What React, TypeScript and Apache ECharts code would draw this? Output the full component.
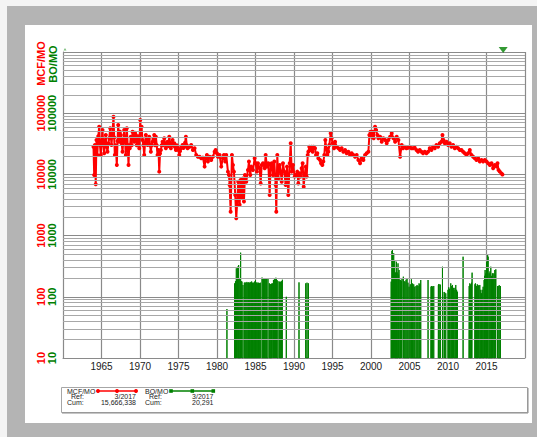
import React, { useEffect, useRef } from 'react';
import * as echarts from 'echarts';

// ---- axes ----
const X_MIN = 1960;
const X_MAX = 2020;
const X_STEP = 5;
const Y_MIN = 10;
const Y_MAX = 1000000;
const DECADES = [10, 100, 1000, 10000, 100000];
const MINOR_MULT = [2, 3, 4, 5, 6, 7, 8, 9];

// ---- legend info ----
const GAS_LABEL = 'MCF/MO';
const OIL_LABEL = 'BO/MO';
const REF_LABEL = 'Ref:';
const CUM_LABEL = 'Cum:';
const REF_DATE = '3/2017';
const REF_YEAR = 2017.17;
const GAS_CUM = '15,666,338';
const OIL_CUM = '20,291';

// ---- gas, MCF per month ----
const gasData: [number, number][] = [
  [1963.96, 28400], [1964.05, 9800], [1964.15, 30200], [1964.25, 6900], [1964.35, 36500], [1964.45, 20700],
  [1964.58, 42000], [1964.7, 60100], [1964.8, 30000], [1964.91, 20700], [1965.02, 35000], [1965.13, 53100],
  [1965.24, 30000], [1965.35, 22100], [1965.46, 36000], [1965.56, 44000], [1965.67, 28000], [1965.78, 23500],
  [1965.9, 32000], [1966.0, 38900], [1966.13, 56600], [1966.3, 30200], [1966.42, 48000], [1966.56, 87700],
  [1966.65, 40000], [1966.73, 20700], [1966.85, 30000], [1966.99, 14200], [1967.08, 35000], [1967.17, 64200],
  [1967.3, 34200], [1967.4, 50000], [1967.51, 44000], [1967.62, 32000], [1967.73, 23500], [1967.85, 38000],
  [1967.95, 53100], [1968.05, 35000], [1968.16, 20700], [1968.29, 56600], [1968.4, 30000], [1968.51, 14200],
  [1968.6, 30000], [1968.68, 26700], [1968.81, 41300], [1968.92, 30000], [1969.03, 49800], [1969.14, 38000],
  [1969.25, 34200], [1969.35, 48000], [1969.46, 44000], [1969.57, 30000], [1969.68, 34200], [1969.8, 42000],
  [1969.9, 26700], [1970.03, 77400], [1970.12, 45000], [1970.2, 60100], [1970.33, 36500], [1970.44, 30000],
  [1970.55, 20700], [1970.66, 33000], [1970.76, 44000], [1970.88, 36000], [1970.98, 30200], [1971.1, 38000],
  [1971.2, 41300], [1971.3, 30000], [1971.41, 23500], [1971.52, 30000], [1971.63, 34200], [1971.74, 38000],
  [1971.85, 44000], [1971.95, 30000], [1972.06, 41300], [1972.17, 30000], [1972.28, 20700], [1972.4, 25000],
  [1972.5, 11100], [1972.6, 22000], [1972.71, 25000], [1972.82, 30000], [1972.93, 34200], [1973.04, 30000],
  [1973.15, 38900], [1973.25, 32000], [1973.36, 26700], [1973.47, 30000], [1973.58, 34200], [1973.69, 29000],
  [1973.8, 41300], [1973.9, 33000], [1974.01, 26700], [1974.12, 30000], [1974.23, 36500], [1974.34, 30000],
  [1974.45, 32200], [1974.55, 28000], [1974.66, 25000], [1974.77, 30000], [1974.88, 28400], [1974.99, 25000],
  [1975.1, 20700], [1975.2, 24000], [1975.31, 26700], [1975.42, 28000], [1975.53, 30200], [1975.64, 27000],
  [1975.75, 28400], [1975.85, 33000], [1975.96, 41300], [1976.07, 30000], [1976.18, 26700], [1976.3, 28000],
  [1976.44, 28400], [1976.65, 30200], [1976.87, 25000], [1977.09, 26700], [1977.3, 20700], [1977.52, 19500],
  [1977.74, 19500], [1977.95, 18300], [1978.17, 18800], [1978.39, 13400], [1978.52, 18300], [1978.69, 20700],
  [1978.82, 16200], [1979.04, 19500], [1979.25, 17200], [1979.47, 19500], [1979.69, 23500], [1979.82, 25000],
  [1979.99, 22100], [1980.12, 19500], [1980.34, 20700], [1980.55, 13400], [1980.77, 18300], [1980.9, 20700],
  [1981.07, 16200], [1981.2, 20700], [1981.42, 11100], [1981.55, 9800], [1981.64, 6700], [1981.77, 2460],
  [1981.94, 20700], [1982.07, 14200], [1982.2, 11100], [1982.37, 4600], [1982.5, 1920], [1982.63, 3600],
  [1982.76, 7600], [1982.94, 3200], [1983.07, 8100], [1983.2, 4100], [1983.37, 8600], [1983.5, 3600],
  [1983.63, 9800], [1983.8, 7600], [1984.02, 11800], [1984.15, 16200], [1984.32, 9800], [1984.45, 13400],
  [1984.67, 11800], [1984.89, 18300], [1985.02, 15200], [1985.19, 11100], [1985.32, 15200], [1985.54, 12600],
  [1985.67, 7100], [1985.8, 14200], [1985.97, 15200], [1986.19, 12600], [1986.32, 20700], [1986.49, 13400],
  [1986.66, 15200], [1986.84, 4600], [1986.97, 14200], [1987.1, 15200], [1987.27, 9800], [1987.44, 16200],
  [1987.62, 6700], [1987.7, 2460], [1987.83, 20700], [1987.96, 8600], [1988.14, 14200], [1988.27, 11100],
  [1988.4, 7600], [1988.57, 15200], [1988.74, 11100], [1988.92, 6700], [1989.09, 13400], [1989.26, 4600],
  [1989.44, 15200], [1989.57, 32200], [1989.7, 11100], [1989.87, 14200], [1990.09, 9200], [1990.26, 9800],
  [1990.43, 11100], [1990.56, 7100], [1990.69, 10400], [1990.86, 9200], [1990.99, 12600], [1991.12, 15200],
  [1991.26, 6300], [1991.39, 9800], [1991.52, 13400], [1991.65, 9200], [1991.78, 20700], [1991.86, 23500],
  [1991.99, 28400], [1992.16, 25000], [1992.29, 28400], [1992.42, 23500], [1992.55, 28400], [1992.73, 26700],
  [1992.86, 20700], [1993.03, 22100], [1993.16, 18300], [1993.38, 17200], [1993.51, 15200], [1993.68, 14200],
  [1993.81, 16200], [1993.94, 20700], [1994.07, 36500], [1994.2, 26700], [1994.33, 20700], [1994.46, 23500],
  [1994.59, 30200], [1994.76, 46900], [1994.89, 38900], [1995.02, 32200], [1995.2, 26700], [1995.33, 34200],
  [1995.54, 28400], [1995.76, 26700], [1995.98, 25000], [1996.19, 26700], [1996.41, 23500], [1996.63, 25000],
  [1996.84, 22100], [1997.06, 23500], [1997.28, 20700], [1997.49, 22100], [1997.71, 20700], [1997.93, 19500],
  [1998.14, 20700], [1998.36, 17200], [1998.58, 15200], [1998.79, 18300], [1999.01, 17200], [1999.23, 20700],
  [1999.44, 22100], [1999.66, 23500], [1999.79, 44000], [1999.92, 49800], [2000.09, 41300], [2000.22, 49800],
  [2000.35, 38900], [2000.53, 60100], [2000.66, 53100], [2000.83, 44000], [2000.96, 38900], [2001.18, 41300],
  [2001.39, 34200], [2001.61, 38900], [2001.83, 36500], [2002.04, 32200], [2002.26, 36500], [2002.48, 41300],
  [2002.69, 46900], [2002.91, 38900], [2003.13, 34200], [2003.34, 41300], [2003.56, 36500], [2003.78, 19500],
  [2003.99, 30200], [2004.16, 26700], [2004.38, 28400], [2004.6, 26700], [2004.81, 27300], [2005.03, 28400],
  [2005.25, 26700], [2005.46, 26700], [2005.68, 27300], [2005.9, 25000], [2006.11, 23500], [2006.33, 25000],
  [2006.55, 23500], [2006.76, 22100], [2006.98, 23500], [2007.2, 22100], [2007.41, 23500], [2007.63, 26700],
  [2007.85, 25000], [2008.06, 28400], [2008.28, 26700], [2008.5, 30200], [2008.71, 28400], [2008.93, 32200],
  [2009.15, 34200], [2009.28, 44000], [2009.41, 36500], [2009.58, 32200], [2009.8, 34200], [2010.01, 30200],
  [2010.23, 32200], [2010.45, 28400], [2010.66, 30200], [2010.88, 26700], [2011.1, 28400], [2011.31, 26700],
  [2011.53, 25000], [2011.75, 25000], [2011.96, 23500], [2012.18, 22100], [2012.4, 20700], [2012.61, 22100],
  [2012.83, 25000], [2013.05, 20700], [2013.26, 19500], [2013.48, 18300], [2013.7, 17200], [2013.91, 18300],
  [2014.13, 16200], [2014.35, 17200], [2014.56, 16200], [2014.78, 17200], [2015.0, 16200], [2015.21, 15200],
  [2015.43, 14200], [2015.65, 15200], [2015.86, 12600], [2016.08, 14200], [2016.3, 13400], [2016.43, 15200],
  [2016.56, 11800], [2016.73, 11100], [2016.94, 10400], [2017.07, 10000],
];

// ---- oil, BO per month: runs of producing months (months between runs had no oil) ----
const oilRuns: [number, number][][] = [
  [[1981.29, 63]],
  [[1982.29, 166], [1982.4, 180], [1982.51, 292], [1982.6, 200], [1982.68, 310], [1982.81, 330], [1982.95, 200],
   [1983.07, 526], [1983.16, 180], [1983.24, 177], [1983.37, 156]],
  [[1983.55, 170], [1983.66, 172], [1983.77, 168], [1983.88, 175], [1984.0, 170], [1984.1, 172], [1984.2, 168],
   [1984.3, 175], [1984.4, 170], [1984.5, 178], [1984.6, 170], [1984.7, 168], [1984.8, 172], [1984.9, 178],
   [1985.0, 188], [1985.1, 170], [1985.2, 172], [1985.3, 165], [1985.4, 170], [1985.5, 168], [1985.63, 170]],
  [[1985.85, 206], [1985.95, 200], [1986.05, 200], [1986.15, 195], [1986.25, 200], [1986.35, 198], [1986.45, 195], [1986.62, 200]],
  [[1986.8, 166], [1986.9, 162], [1987.0, 160], [1987.1, 164], [1987.19, 166]],
  [[1987.33, 188], [1987.42, 190], [1987.5, 195], [1987.58, 200], [1987.65, 205], [1987.72, 195], [1987.8, 188], [1987.92, 180]],
  [[1988.1, 177], [1988.2, 175], [1988.3, 177], [1988.4, 180], [1988.49, 190]],
  [[1989.0, 100]],
  [[1990.65, 172]],
  [[1991.52, 166], [1991.69, 170], [1991.87, 166]],
  [[2002.62, 177], [2002.72, 560], [2002.78, 597], [2002.88, 350], [2002.95, 514], [2003.02, 300], [2003.08, 399],
   [2003.2, 250], [2003.3, 374], [2003.4, 250], [2003.51, 352], [2003.58, 230], [2003.64, 274], [2003.75, 190],
   [2003.86, 188], [2003.95, 180], [2004.03, 200]],
  [[2004.2, 213], [2004.3, 180], [2004.42, 177], [2004.55, 190], [2004.68, 200], [2004.8, 170], [2004.94, 146]],
  [[2005.1, 160], [2005.25, 193], [2005.4, 165], [2005.55, 160], [2005.68, 146], [2005.85, 150], [2005.98, 156],
   [2006.1, 150], [2006.24, 166], [2006.35, 160], [2006.46, 188]],
  [[2007.41, 188]],
  [[2007.8, 146], [2007.85, 150], [2008.0, 148], [2008.15, 150]],
  [[2008.75, 155], [2008.8, 162], [2008.95, 160], [2009.02, 156]],
  [[2009.28, 310]],
  [[2009.5, 120], [2009.58, 117], [2009.71, 114]],
  [[2010.0, 130], [2010.1, 143], [2010.2, 135], [2010.36, 166], [2010.48, 150], [2010.58, 156], [2010.7, 140],
   [2010.79, 129], [2010.9, 140], [2011.01, 156], [2011.12, 130], [2011.23, 121]],
  [[2011.96, 452]],
  [[2012.75, 150], [2012.83, 166], [2012.95, 160], [2013.05, 170], [2013.13, 248]],
  [[2013.5, 160], [2013.56, 166], [2013.7, 150], [2013.8, 160], [2013.91, 156], [2014.0, 150], [2014.13, 156],
   [2014.25, 130], [2014.35, 114]],
  [[2014.45, 130], [2014.56, 146], [2014.69, 188], [2014.75, 220], [2014.82, 274], [2014.9, 240], [2015.0, 374],
   [2015.1, 300], [2015.15, 480], [2015.21, 452], [2015.34, 242], [2015.45, 260], [2015.56, 310], [2015.66, 220],
   [2015.77, 242], [2015.86, 200], [2015.95, 242], [2016.08, 274], [2016.15, 230], [2016.21, 281]],
  [[2016.45, 150], [2016.51, 150], [2016.65, 155], [2016.81, 150]],
];

const RED = '#ff0000';
const GREEN = '#008000';
const FONT = '"Liberation Sans", Arial, Helvetica, sans-serif';

// each producing month is drawn as a drop line to the axis floor
function buildOilSeries() {
  const out: any[] = [];
  oilRuns.forEach((run) => {
    run.forEach((p) => {
      out.push([p[0] - 0.003, Y_MIN]);
      out.push(p);
      out.push([p[0] + 0.003, Y_MIN]);
    });
    out.push([run[run.length - 1][0] + 0.01, '-']);
  });
  return out;
}

function minorGrid() {
  const lines: any[] = [];
  DECADES.forEach((d) => MINOR_MULT.forEach((m) => lines.push({ yAxis: d * m })));
  return lines;
}

function legendGraphics() {
  const tf = `7px ${FONT}`;
  const t = (text: string, x: number, y: number, align = 'left') => ({
    type: 'text', x, y, z: 20,
    style: { text, x: 0, y: 0, fill: '#222', font: tf, align, verticalAlign: 'middle', textAlign: align, textVerticalAlign: 'middle' },
  });
  const els: any[] = [
    { type: 'rect', z: 15, shape: { x: 61.5, y: 387.5, width: 466, height: 25 }, style: { fill: '#fff', stroke: '#a6a6a6', lineWidth: 1 } },
    { type: 'line', z: 16, shape: { x1: 528, y1: 388, x2: 528, y2: 413 }, style: { stroke: '#8c8c8c', lineWidth: 1 } },
    { type: 'line', z: 16, shape: { x1: 62, y1: 413, x2: 528, y2: 413 }, style: { stroke: '#8c8c8c', lineWidth: 1 } },
    t(GAS_LABEL, 67, 391), t(REF_LABEL, 71, 396.7), t(REF_DATE, 136, 396.7, 'right'),
    t(CUM_LABEL, 67, 402.3), t(GAS_CUM, 136, 402.3, 'right'),
    t(OIL_LABEL, 145, 391), t(REF_LABEL, 149, 396.7), t(REF_DATE, 213.5, 396.7, 'right'),
    t(CUM_LABEL, 145, 402.3), t(OIL_CUM, 213.5, 402.3, 'right'),
    { type: 'line', z: 20, shape: { x1: 98, y1: 391, x2: 136, y2: 391 }, style: { stroke: RED, lineWidth: 1.5 } },
    { type: 'line', z: 20, shape: { x1: 171, y1: 391, x2: 213.5, y2: 391 }, style: { stroke: GREEN, lineWidth: 1.5 } },
  ];
  [98, 117, 136].forEach((x) => els.push({ type: 'circle', z: 21, shape: { cx: x, cy: 391, r: 2 }, style: { fill: RED } }));
  [171, 192.3, 213.3].forEach((x) => els.push({ type: 'rect', z: 21, shape: { x: x - 1.8, y: 389.2, width: 3.6, height: 3.6 }, style: { fill: GREEN } }));
  return els;
}

export default function App() {
  const ref = useRef<HTMLDivElement>(null);
  useEffect(() => {
    if (!ref.current) return;
    const chart = echarts.init(ref.current, null, { renderer: 'svg' });
    const option: any = {
      animation: false,
      backgroundColor: '#f4f4f4',
      grid: { left: 63, top: 52, right: 12, bottom: 79, outerBoundsMode: 'none', containLabel: false },
      xAxis: {
        type: 'value', min: X_MIN, max: X_MAX, interval: X_STEP,
        axisLine: { show: true, lineStyle: { color: '#8a8a8a', width: 1 } },
        axisTick: { show: false },
        splitLine: { show: true, lineStyle: { color: '#8a8a8a', width: 1.2 } },
        axisLabel: {
          show: true, margin: 3, color: '#1a1a1a', fontSize: 10, fontFamily: FONT,
          showMinLabel: false, showMaxLabel: false,
          formatter: (v: number) => (v <= X_MIN || v >= X_MAX ? '' : String(Math.round(v))),
        },
      },
      yAxis: {
        type: 'log', logBase: 10, min: Y_MIN, max: Y_MAX, splitNumber: 5,
        axisLine: { show: true, lineStyle: { color: '#8a8a8a', width: 1 } },
        axisTick: { show: false },
        minorTick: { show: false },
        splitLine: { show: true, lineStyle: { color: '#8a8a8a', width: 1.2 } },
        axisLabel: {
          show: true, rotate: 90, margin: 5,
          formatter: (v: number) => {
            const n = Math.round(v);
            return n >= Y_MAX ? '' : `{r|${n}}\n{g|${n}}`;
          },
          rich: {
            r: { color: RED, fontWeight: 'bold', fontSize: 11, lineHeight: 11.5, fontFamily: FONT },
            g: { color: GREEN, fontWeight: 'bold', fontSize: 11, lineHeight: 11.5, fontFamily: FONT },
          },
        },
      },
      series: [
        {
          name: 'grid', type: 'line', data: [], z: 1, silent: true,
          markLine: {
            silent: true, symbol: ['none', 'none'], label: { show: false }, animation: false,
            lineStyle: { color: '#a8a8a8', width: 1, type: 'solid' },
            emphasis: { disabled: true },
            data: minorGrid(),
          },
        },
        {
          name: OIL_LABEL, type: 'line', data: buildOilSeries(), z: 2, clip: true,
          showSymbol: false, connectNulls: false,
          lineStyle: { color: GREEN, width: 1 },
          itemStyle: { color: GREEN },
        },
        {
          name: GAS_LABEL, type: 'line', data: gasData, z: 3, clip: true,
          symbol: 'circle', symbolSize: 4, showSymbol: true,
          lineStyle: { color: RED, width: 2 },
          itemStyle: { color: RED },
        },
        {
          name: 'ref', type: 'scatter', data: [[REF_YEAR, Y_MAX]], z: 5, clip: false,
          symbol: 'triangle', symbolRotate: 180, symbolSize: [9, 6], symbolOffset: [0, -2],
          itemStyle: { color: GREEN },
        },
      ],
      graphic: [
        { type: 'rect', z: -10, shape: { x: 7, y: 6, width: 530, height: 431 }, style: { fill: '#b4b4b4' } },
        { type: 'rect', z: -9, shape: { x: 25, y: 25, width: 507, height: 398 }, style: { fill: '#ffffff' } },
        {
          type: 'text', x: 41, y: 63.5, rotation: Math.PI / 2, z: 20,
          style: { text: GAS_LABEL, x: 0, y: 0, fill: RED, font: `bold 11px ${FONT}`, align: 'center', verticalAlign: 'middle', textAlign: 'center', textVerticalAlign: 'middle' },
        },
        {
          type: 'text', x: 52.5, y: 64, rotation: Math.PI / 2, z: 20,
          style: { text: OIL_LABEL, x: 0, y: 0, fill: GREEN, font: `bold 11px ${FONT}`, align: 'center', verticalAlign: 'middle', textAlign: 'center', textVerticalAlign: 'middle' },
        },
        { type: 'polygon', z: 20, shape: { points: [[63.5, 50.5], [66.5, 50.5], [65, 48]] }, style: { fill: '#7fbf7f' } },
        ...legendGraphics(),
      ],
    };
    chart.setOption(option);
    return () => chart.dispose();
  }, []);
  return <div ref={ref} style={{ position: 'absolute', left: 0, top: 0, width: 537, height: 437 }} />;
}
